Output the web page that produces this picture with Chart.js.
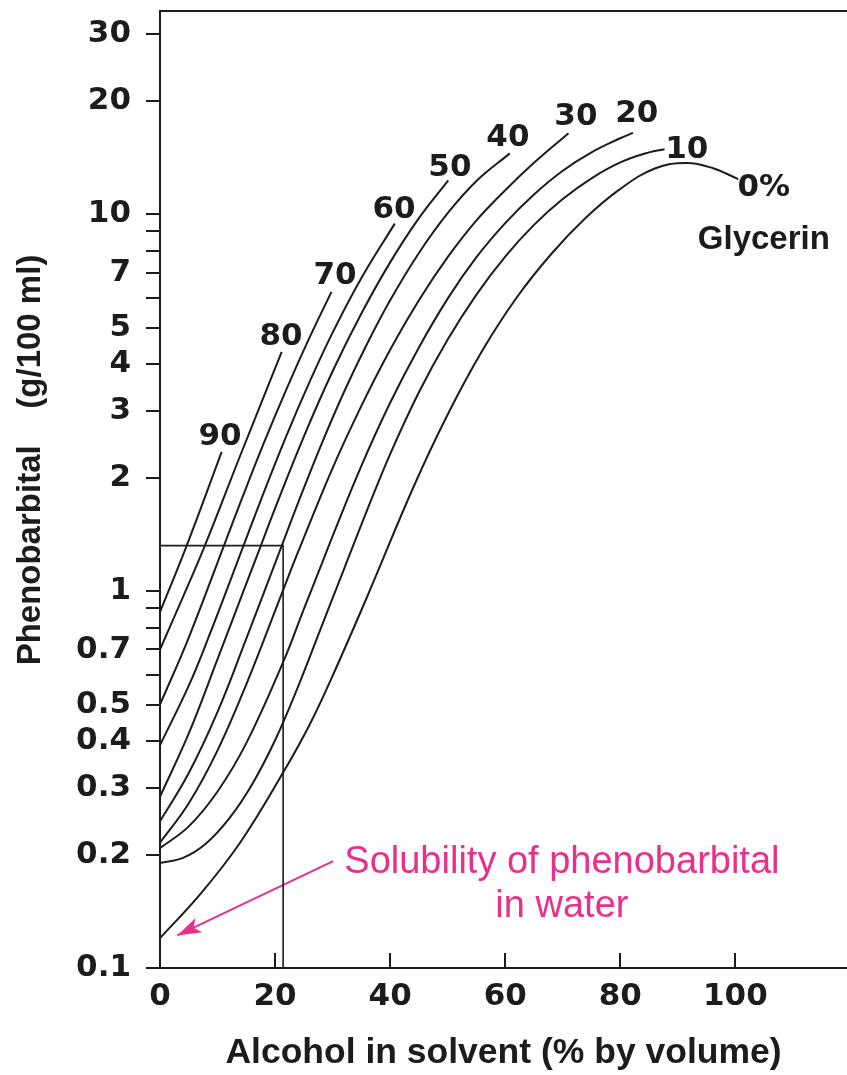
<!DOCTYPE html>
<html>
<head>
<meta charset="utf-8">
<style>
  html, body { margin: 0; padding: 0; background: #ffffff; }
  #wrap { width: 847px; height: 1075px; position: relative; }
</style>
<script src="https://cdn.jsdelivr.net/npm/chart.js@4.4.1/dist/chart.umd.min.js"></script>
</head>
<body>
<div id="wrap"><canvas id="chart" width="847" height="1075"></canvas></div>
<script>
// ---------- data (alcohol % by volume, phenobarbital g/100 ml) ----------
const glycerinLabels = ['0%', '10', '20', '30', '40', '50', '60', '70', '80', '90'];

const g0  = [[0,0.12],[7,0.157],[14,0.216],[21.4,0.33],[26,0.442],[30,0.596],[36,0.966],[44,1.88],[50,2.94],[56,4.34],[62,6.01],[68,7.84],[74,9.78],[80,11.67],[86,13.22],[91.5,13.67],[96,13.26],[100.5,12.39]];
const g10 = [[0,0.19],[4,0.196],[8,0.214],[12,0.249],[16,0.307],[20,0.402],[24,0.558],[28,0.80],[32,1.146],[36,1.64],[40,2.31],[45,3.37],[50,4.65],[55,6.12],[60,7.72],[65,9.37],[70,10.97],[75,12.45],[80,13.72],[85,14.59],[87.7,14.87]];
const g20 = [[0,0.208],[5,0.2375],[10,0.294],[15,0.395],[21.4,0.648],[25,0.896],[28.2,1.19],[30,1.40],[35,2.15],[40,3.16],[45,4.43],[50,5.97],[55,7.69],[60,9.47],[65,11.28],[70,13.04],[75,14.59],[80,15.90],[82.2,16.43]];
const g30 = [[0,0.215],[5,0.2735],[10,0.378],[15,0.566],[21.4,1.0065],[24,1.27],[30,2.12],[35,3.10],[40,4.37],[45,5.91],[50,7.69],[55,9.63],[60,11.58],[65,13.69],[71,16.4]];
const g40 = [[0,0.245],[5,0.329],[10,0.478],[15,0.748],[21.1,1.312],[24,1.714],[28,2.44],[32,3.38],[36,4.53],[40,5.91],[45,7.89],[50,10.06],[55,12.25],[60.8,14.5]];
const g50 = [[0,0.285],[5,0.419],[10,0.66],[15,1.046],[17.6,1.329],[20,1.658],[25,2.57],[30,3.83],[35,5.45],[40,7.45],[45,9.76],[50.1,12.3]];
const g60 = [[0,0.39],[5,0.561],[8.5,0.758],[14.7,1.343],[18,1.82],[22,2.59],[26,3.59],[30,4.85],[35,6.77],[40.8,9.44]];
const g70 = [[0,0.5],[5,0.753],[11.2,1.331],[14,1.722],[18,2.46],[22,3.44],[26,4.71],[29.8,6.22]];
const g80 = [[0,0.70],[4,0.965],[7.8,1.32],[14,2.30],[21.15,4.31]];
const g90 = [[0,0.88],[4.64,1.32],[10.72,2.34]];

// box marking the water-solubility region
const boxX = [0, 21.4, 21.4];
const boxY = [1.32, 1.32, 0.1];

// pink arrow pointing to solubility in water
const arrowX = [30.1, 3.0];
const arrowY = [0.192, 0.122];

// ticks
const xTickValues = [0, 20, 40, 60, 80, 100];
const yTickValues = [0.1,0.2,0.3,0.4,0.5,0.6,0.7,0.8,0.9,1,2,3,4,5,6,7,8,9,10,20,30];
const yTickLabels = ['0.1','0.2','0.3','0.4','0.5','','0.7','','','1','2','3','4','5','','7','','','10','20','30'];

// ---------- annotation placement (data coordinates) ----------
const curveLabelPos = [
  {text:'90', x:10.43, y:2.56}, {text:'80', x:21.03, y:4.71}, {text:'70', x:30.41, y:6.84},
  {text:'60', x:40.66, y:10.24}, {text:'50', x:50.39, y:13.24}, {text:'40', x:60.47, y:15.9},
  {text:'30', x:72.28, y:18.08}, {text:'20', x:82.88, y:18.42}, {text:'10', x:91.57, y:14.78},
  {text:'0%', x:104.95, y:11.72}
];

const BLACK = '#1c1c1c';
const PINK = '#e8308a';
const curves = [g0, g10, g20, g30, g40, g50, g60, g70, g80, g90];

const datasets = curves.map((pts, i) => ({
  label: glycerinLabels[i] + ' glycerin',
  data: pts.map(p => ({x: p[0], y: p[1]})),
  borderColor: BLACK,
  borderWidth: 2,
  pointRadius: 0,
  fill: false,
  tension: 0.4
}));
datasets.push({
  label: 'box',
  data: boxX.map((x, i) => ({x: x, y: boxY[i]})),
  borderColor: BLACK, borderWidth: 1.6, pointRadius: 0, tension: 0, fill: false
});
datasets.push({
  label: 'arrow',
  data: arrowX.map((x, i) => ({x: x, y: arrowY[i]})),
  borderColor: PINK, borderWidth: 2, pointRadius: 0, tension: 0, fill: false
});
const arrowIndex = datasets.length - 1;

const overlay = {
  id: 'overlay',
  afterDatasetsDraw(chart) {
    const {ctx, chartArea: a, scales} = chart;
    const xs = scales.x, ys = scales.y;
    ctx.save();
    // top frame line
    ctx.strokeStyle = BLACK;
    ctx.lineWidth = 2;
    ctx.beginPath(); ctx.moveTo(a.left, a.top); ctx.lineTo(a.right, a.top); ctx.stroke();
    // inward x ticks
    xTickValues.forEach(v => {
      if (v === 0) return;
      const px = Math.round(xs.getPixelForValue(v));
      ctx.beginPath(); ctx.moveTo(px, a.bottom); ctx.lineTo(px, a.bottom - 15); ctx.stroke();
    });
    // arrow head
    const meta = chart.getDatasetMeta(arrowIndex).data;
    const p0 = meta[0], p1 = meta[1];
    const ang = Math.atan2(p1.y - p0.y, p1.x - p0.x);
    const len = 24, half = 8;
    ctx.fillStyle = PINK;
    ctx.beginPath();
    ctx.moveTo(p1.x, p1.y);
    ctx.lineTo(p1.x - len * Math.cos(ang) + half * Math.sin(ang), p1.y - len * Math.sin(ang) - half * Math.cos(ang));
    ctx.lineTo(p1.x - len * 0.75 * Math.cos(ang), p1.y - len * 0.75 * Math.sin(ang));
    ctx.lineTo(p1.x - len * Math.cos(ang) - half * Math.sin(ang), p1.y - len * Math.sin(ang) + half * Math.cos(ang));
    ctx.closePath();
    ctx.fill();
    // curve labels
    ctx.fillStyle = BLACK;
    ctx.textAlign = 'center';
    ctx.textBaseline = 'middle';
    ctx.font = 'bold 31px "DejaVu Sans"';
    curveLabelPos.forEach(l => {
      ctx.fillText(l.text, xs.getPixelForValue(l.x), ys.getPixelForValue(l.y));
    });
    ctx.font = 'bold 33px "Liberation Sans"';
    ctx.fillText('Glycerin', xs.getPixelForValue(104.95), ys.getPixelForValue(8.52));
    // pink annotation
    ctx.fillStyle = PINK;
    ctx.font = '38px "Liberation Sans"';
    ctx.textBaseline = 'alphabetic';
    ctx.fillText('Solubility of phenobarbital', xs.getPixelForValue(69.85), ys.getPixelForValue(0.179));
    ctx.fillText('in water', xs.getPixelForValue(69.85), ys.getPixelForValue(0.1368));
    // y axis title
    ctx.fillStyle = BLACK;
    ctx.font = 'bold 33px "Liberation Sans"';
    ctx.translate(a.left - 120, 460);
    ctx.rotate(-Math.PI / 2);
    ctx.textAlign = 'center';
    ctx.textBaseline = 'alphabetic';
    ctx.fillText('Phenobarbital    (g/100 ml)', 0, 0);
    ctx.restore();
  }
};

new Chart(document.getElementById('chart'), {
  type: 'line',
  data: { datasets: datasets },
  options: {
    responsive: false,
    animation: false,
    devicePixelRatio: 1,
    layout: { padding: { top: 11, left: 0, right: 0, bottom: 0 } },
    plugins: { legend: { display: false }, tooltip: { enabled: false } },
    scales: {
      x: {
        type: 'linear', min: 0, max: 119.4,
        afterBuildTicks: s => { s.ticks = xTickValues.map(v => ({value: v})); },
        afterFit: s => { s.height = 107; s.paddingLeft = 0; s.paddingRight = 0; },
        grid: { display: false, drawTicks: false },
        border: { display: true, color: BLACK, width: 2 },
        ticks: {
          autoSkip: false, maxRotation: 0, padding: 10, color: BLACK,
          font: { family: 'DejaVu Sans', weight: 'bold', size: 31 },
          callback: v => String(v)
        },
        title: {
          display: true, text: 'Alcohol in solvent (% by volume)', color: BLACK,
          font: { family: 'Liberation Sans', weight: 'bold', size: 35.5 },
          padding: { top: 0, bottom: 0 }
        }
      },
      y: {
        type: 'logarithmic', min: 0.1, max: 34.6,
        afterBuildTicks: s => { s.ticks = yTickValues.map(v => ({value: v})); },
        afterFit: s => { s.width = 160; s.paddingTop = 0; s.paddingBottom = 0; },
        grid: { display: true, drawOnChartArea: false, drawTicks: true, tickLength: 14, color: BLACK, lineWidth: 2 },
        border: { display: true, color: BLACK, width: 2 },
        ticks: {
          autoSkip: false, padding: 15, color: BLACK,
          font: { family: 'DejaVu Sans', weight: 'bold', size: 31 },
          callback: v => {
            const i = yTickValues.findIndex(t => Math.abs(t - v) < 1e-9);
            return i >= 0 ? yTickLabels[i] : '';
          }
        }
      }
    }
  },
  plugins: [overlay]
});
</script>
</body>
</html>
